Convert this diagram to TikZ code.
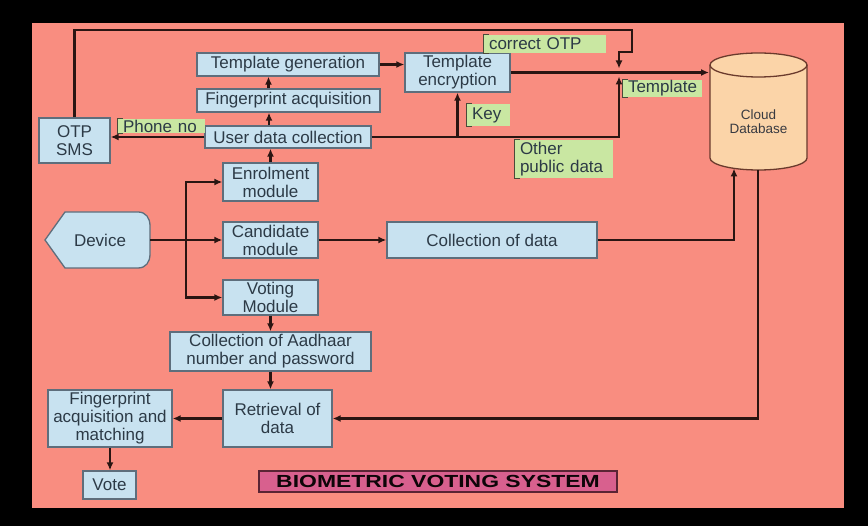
\documentclass[tikz,border=0pt]{standalone}
\usepackage{fontspec}
\usepackage{graphicx}
\setmainfont{Liberation Sans}
\usetikzlibrary{arrows.meta}

\definecolor{salmon}{HTML}{F98D80}
\definecolor{boxblue}{HTML}{C8E2F0}
\definecolor{boxline}{HTML}{5E6E7C}
\definecolor{txt}{HTML}{2C3A46}
\definecolor{notegreen}{HTML}{C9E7A2}
\definecolor{notemark}{HTML}{4A4A3A}
\definecolor{wirecol}{HTML}{2A1512}
\definecolor{dbfill}{HTML}{FBD4A8}
\definecolor{dbline}{HTML}{6A3A2C}
\definecolor{titlefill}{HTML}{D8608E}
\definecolor{titleline}{HTML}{5A2434}

\tikzset{
  stepbox/.style={draw=boxline, line width=1.3bp, fill=boxblue, text=txt,
    inner sep=0pt, align=center, font=\fontsize{17bp}{18bp}\selectfont},
  wire/.style={draw=wirecol, line width=2.4bp},
  flow/.style={wire, -{Latex[length=8bp,width=7bp]}},
  note/.style={fill=notegreen, text=txt, inner xsep=5bp, inner ysep=0pt,
    align=left, font=\fontsize{17bp}{18bp}\selectfont},
  notemarkstyle/.style={draw=notemark, line width=1.3bp},
}

\newcommand{\notemarker}[1]{%
  \draw[notemarkstyle] ([xshift=5bp]#1.north west) -- (#1.north west)
    -- (#1.south west) -- ([xshift=5bp]#1.south west);}

\begin{document}
\begin{tikzpicture}[x=1bp,y=-1bp]
  % frame
  \fill[black] (0,0) rectangle (868,526);
  \fill[salmon] (32,23) rectangle (844,508);
  \useasboundingbox (0,0) rectangle (868,526);

  % enrolment branch
  \node[stepbox, minimum width=182bp, minimum height=23bp] (tgen) at (288,64.5) {Template generation};
  \node[stepbox, minimum width=183bp, minimum height=23bp] (facq) at (288.5,100.5) {Fingerprint acquisition};
  \node[stepbox, minimum width=166bp, minimum height=22bp] (udc) at (288,137) {User data collection};
  \node[stepbox, minimum width=71bp, minimum height=45bp] (otp) at (74.5,140.5) {OTP\\SMS};
  \node[stepbox, minimum width=105bp, minimum height=39bp] (tenc) at (457.5,72.5) {Template\\encryption};

  % modules
  \node[stepbox, minimum width=95bp, minimum height=38bp] (enrol) at (270.5,182) {Enrolment\\module};
  \node[stepbox, minimum width=95bp, minimum height=36bp] (cand) at (270.5,240) {Candidate\\module};
  \node[stepbox, minimum width=95bp, minimum height=35bp] (voting) at (270.5,297.5) {Voting\\Module};
  \node[stepbox, minimum width=210bp, minimum height=36bp] (coll) at (492,240) {Collection of data};

  % voting branch
  \node[stepbox, minimum width=201bp, minimum height=39bp] (aadhaar) at (270.5,351.5) {Collection of Aadhaar\\number and password};
  \node[stepbox, minimum width=109bp, minimum height=57bp] (retr) at (277.5,418.5) {Retrieval of\\data};
  \node[stepbox, minimum width=124bp, minimum height=57bp] (fpm) at (110,418.5) {Fingerprint\\acquisition and\\matching};
  \node[stepbox, minimum width=53bp, minimum height=28bp] (vote) at (109.5,485) {Vote};

  % device
  \path[draw=boxline, line width=1.3bp, fill=boxblue]
    (45,240) -- (65,212) -- (138,212)
    .. controls (146,212) and (150,218) .. (150,226) -- (150,254)
    .. controls (150,262) and (146,268) .. (138,268) -- (65,268) -- cycle;
  \node[text=txt, font=\fontsize{17bp}{18bp}\selectfont] (dev) at (100,240) {Device};
  \coordinate (devR) at (150,240);
  \coordinate (split) at (186,240);

  % cloud database
  \path[fill=dbfill, draw=dbline, line width=1.3bp]
    (710,65) -- (710,158) arc[start angle=180, end angle=360, x radius=48.5bp, y radius=12bp]
    -- (807,65);
  \path[fill=dbfill, draw=dbline, line width=1.3bp]
    (758.5,65) ellipse[x radius=48.5bp, y radius=12bp];
  \node[text=txt!80!dbline, align=center, font=\fontsize{13.5bp}{13.5bp}\selectfont] (cloud) at (758.5,121.5) {Cloud\\Database};
  \coordinate (cloudL) at (709,72.5);
  \coordinate (cloudIn) at (734,168.5);
  \coordinate (cloudOut) at (758,170);

  % junction on the template line
  \coordinate (jn) at (619,72.5);
  \coordinate (hub) at (619,137);
  \coordinate (loopA) at (632,30);
  \coordinate (loopB) at (632,52);

  % connectors
  \draw[flow] (enrol.north) -- (enrol.north |- udc.south);
  \draw[flow] ([xshift=-19bp]udc.north) -- ([xshift=-19bp]udc.north |- facq.south);
  \draw[flow] ([xshift=-20bp]facq.north) -- ([xshift=-20bp]facq.north |- tgen.south);
  \draw[flow] (udc.west) -- (udc.west -| otp.east);
  \draw[flow] (tgen.east) -- (tgen.east -| tenc.west);
  \draw[flow] (tenc.south |- udc.east) -- (tenc.south);
  \draw[flow] (tenc.east) -- (cloudL);
  \draw[flow, shorten >=4bp] (udc.east) -- (hub) -- (jn);
  \draw[flow, shorten >=4bp] (otp.north) |- (loopA) -- (loopB) -| (jn);

  \draw[wire] (devR) -- (split);
  \draw[flow] (split) |- (enrol.west);
  \draw[flow] (split) |- (voting.west);
  \draw[flow] (split) -- (cand.west);
  \draw[flow] (cand.east) -- (coll.west);
  \draw[flow] (coll.east) -| (cloudIn);
  \draw[flow] (cloudOut) |- (retr.east);
  \draw[flow] (voting.south) -- (aadhaar.north);
  \draw[flow] (aadhaar.south) -- (aadhaar.south |- retr.north);
  \draw[flow] (retr.west) -- (fpm.east);
  \draw[flow] (fpm.south) -- (fpm.south |- vote.north);

  % notes
  \node[note, text width=77bp, minimum height=14bp] (nphone) at (161.5,126) {Phone no};
  \node[note, text width=112bp, minimum height=18bp] (notp) at (545,44) {correct OTP};
  \node[note, text width=33bp, minimum height=22bp] (nkey) at (488.5,115) {Key};
  \node[note, text width=88bp, minimum height=38bp] (nother) at (564,159) {Other\\public data};
  \node[note, text width=69bp, minimum height=17bp] (ntempl) at (662.5,88.5) {Template};
  \notemarker{nphone}
  \notemarker{notp}
  \notemarker{nkey}
  \notemarker{nother}
  \notemarker{ntempl}

  % title
  \node[draw=titleline, line width=1.3bp, fill=titlefill, text=black!85!titleline,
        minimum width=358bp, minimum height=21bp, inner sep=0pt,
        font=\fontsize{17.5bp}{18bp}\selectfont\bfseries] (title) at (438,481.5)
        {\scalebox{1.31}[1]{BIOMETRIC VOTING SYSTEM}};
\end{tikzpicture}
\end{document}
